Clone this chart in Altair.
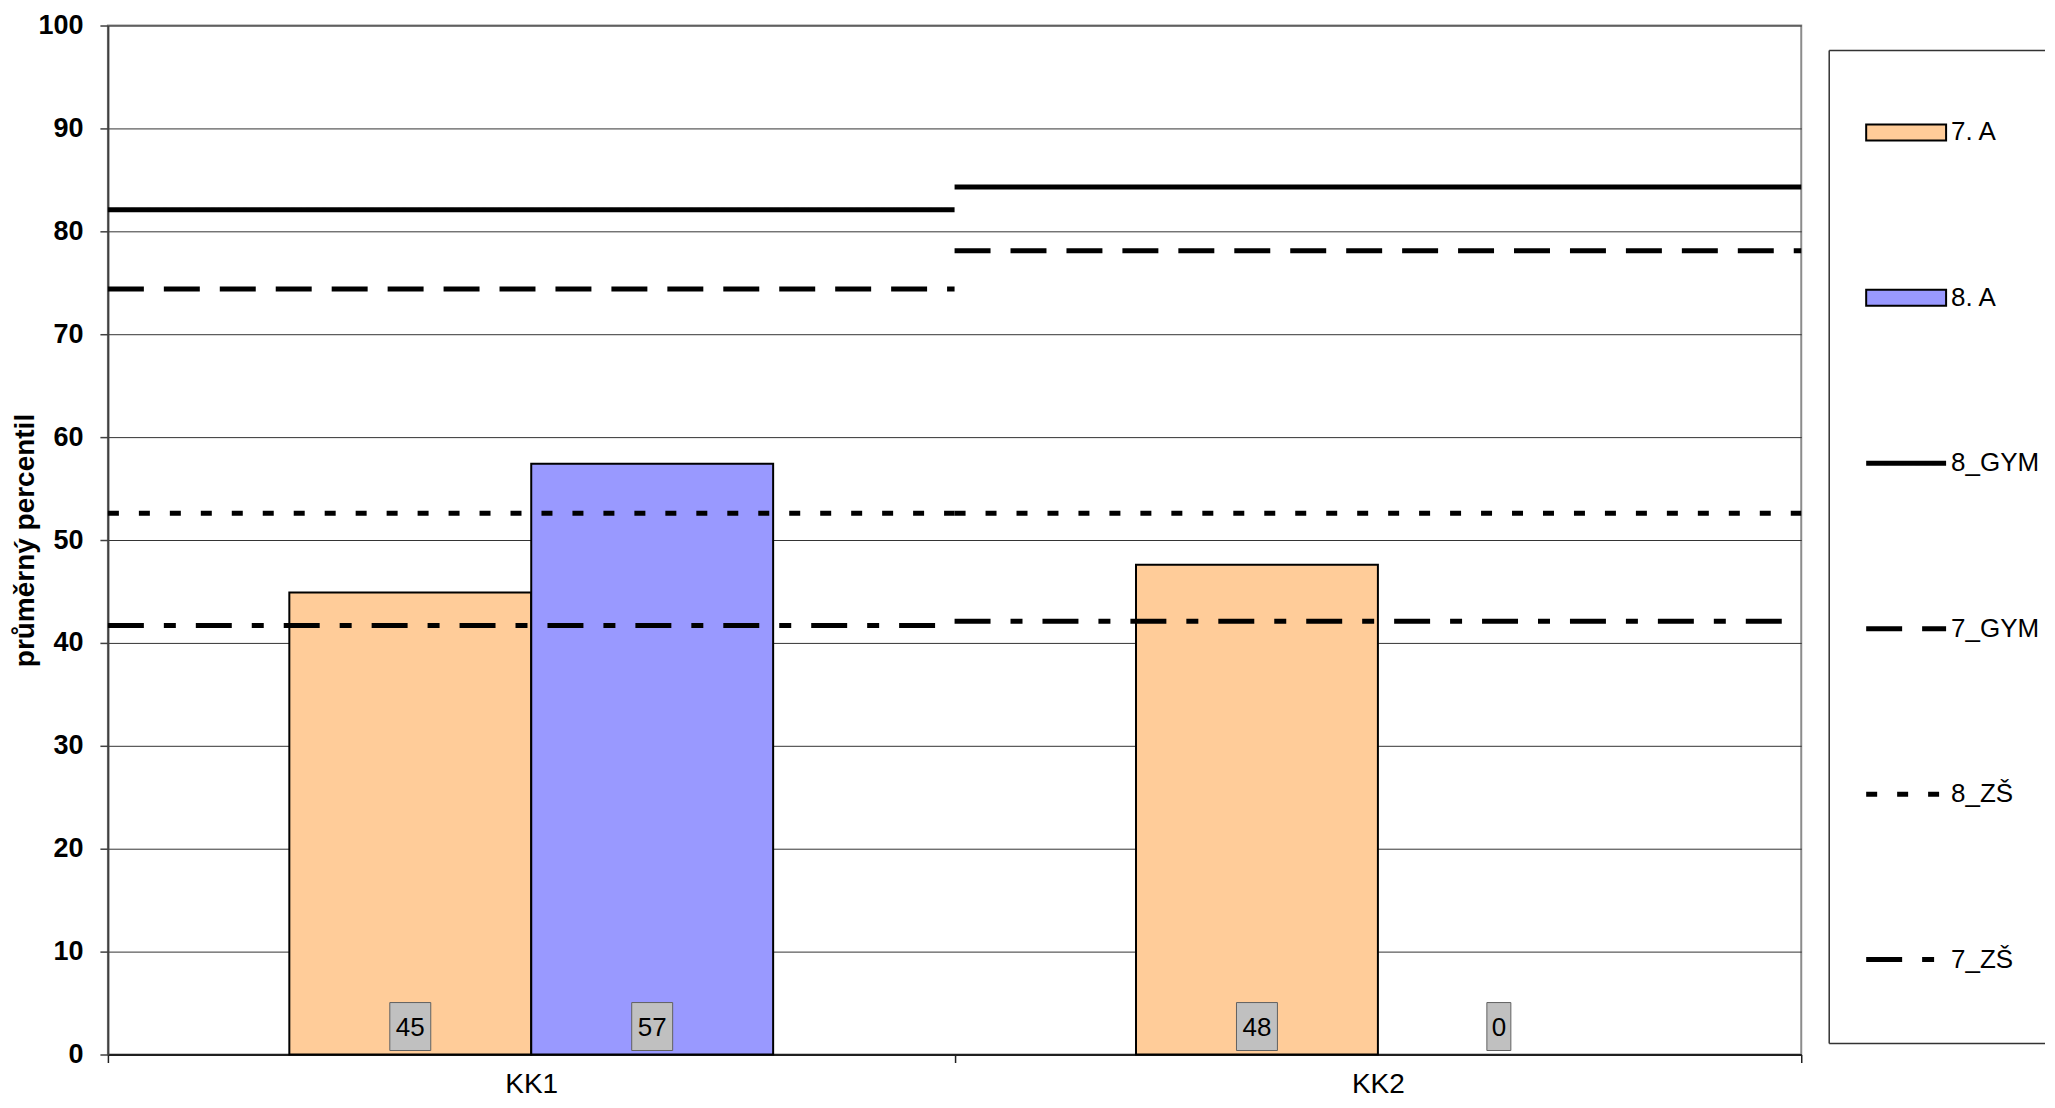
import altair as alt
import pandas as pd

# ---------------- data ----------------
categories = ["KK1", "KK2"]
bar_series = ["7. A", "8. A"]
bar_7A = [44.9, 47.6]
bar_8A = [57.4, 0.0]

line_series = ["8_GYM", "7_GYM", "8_ZŠ", "7_ZŠ"]
line_8GYM = [82.1, 84.3]
line_7GYM = [74.4, 78.1]
line_8ZS = [52.6, 52.6]
line_7ZS = [41.7, 42.1]

legend_order = bar_series + line_series
y_ticks = list(range(0, 101, 10))

# ---------------- styles ----------------
FONT = "Liberation Sans"
bar_colors = ["#FFCC99", "#9999FF"]
dash_styles = [[1, 0], [36, 20], [11, 20], [36, 20, 12, 20]]
W, H = 1695, 1030
LW = 216

bars_df = pd.DataFrame(
    [(c, s, v) for s, vals in zip(bar_series, [bar_7A, bar_8A]) for c, v in zip(categories, vals)],
    columns=["cat", "series", "value"],
)
lines_rows = []
for s, vals in zip(line_series, [line_8GYM, line_7GYM, line_8ZS, line_7ZS]):
    for i, v in enumerate(vals):
        lines_rows.append((categories[i], i, i + 1, s, v))
lines_df = pd.DataFrame(lines_rows, columns=["cat", "x0", "x1", "series", "value"])
legend_df = pd.DataFrame({"series": legend_order,
                          "kind": ["bar"] * len(bar_series) + ["line"] * len(line_series)})

y_scale = alt.Scale(domain=[0, 100], nice=False, zero=True)


def y_enc(field):
    return alt.Y(
        field,
        scale=y_scale,
        title="průměrný percentil",
        axis=alt.Axis(
            values=y_ticks, labelFont=FONT, labelFontSize=27, labelFontWeight="bold",
            labelColor="black", labelPadding=17, tickSize=8, tickColor="#404040", tickWidth=1.5,
            domainColor="#404040", domainWidth=2, gridColor="#333333", gridWidth=1,
            titleFont=FONT, titleFontSize=28, titleFontWeight="bold", titleColor="black",
            titlePadding=-2,
        ),
    )


x_scale = alt.Scale(domain=categories, paddingInner=0, paddingOuter=0)
x_axis = alt.X(
    "cat:N", sort=categories, title=None, scale=x_scale,
    axis=alt.Axis(labelFont=FONT, labelFontSize=28, labelColor="black", labelAngle=0,
                  labelPadding=8, tickBand="extent", tickSize=8, tickColor="#202020",
                  tickWidth=1.5, domainColor="#202020", domainWidth=2, grid=False),
)
x_noaxis = alt.X("cat:N", sort=categories, title=None, scale=x_scale, axis=None)
x_off = alt.XOffset("series:N", sort=bar_series,
                    scale=alt.Scale(domain=bar_series, paddingInner=0, paddingOuter=0.75))
fill_enc = alt.Fill("series:N", scale=alt.Scale(domain=bar_series, range=bar_colors), legend=None)
dash_enc = alt.StrokeDash("series:N", scale=alt.Scale(domain=line_series, range=dash_styles), legend=None)

bars = alt.Chart(bars_df).transform_filter("datum.value > 0").mark_bar(
    stroke="black", strokeWidth=2
).encode(x=x_axis, xOffset=x_off, y=y_enc("value:Q"), fill=fill_enc)

lines = alt.Chart(lines_df).mark_rule(color="black", strokeWidth=5, strokeCap="butt").encode(
    x=alt.X("x0:Q", scale=alt.Scale(domain=[0, 2], nice=False, zero=False), axis=None),
    x2="x1:Q",
    y=y_enc("value:Q"),
    strokeDash=dash_enc,
)

box_wide = "M-0.854,-1H0.854V1H-0.854Z"
box_narrow = "M-0.5,-1H0.5V1H-0.5Z"
label_base = alt.Chart(bars_df).transform_calculate(base="0")

boxes2 = label_base.transform_filter("round(datum.value) >= 10").mark_point(
    shape=box_wide, size=2304, filled=True, fill="#C0C0C0", stroke="#606060",
    strokeWidth=1, opacity=1, yOffset=-28,
).encode(x=x_noaxis, xOffset=x_off, y=y_enc("base:Q"))

boxes1 = label_base.transform_filter("round(datum.value) < 10").mark_point(
    shape=box_narrow, size=2304, filled=True, fill="#C0C0C0", stroke="#606060",
    strokeWidth=1, opacity=1, yOffset=-28,
).encode(x=x_noaxis, xOffset=x_off, y=y_enc("base:Q"))

texts = label_base.mark_text(
    font=FONT, fontSize=26, color="black", baseline="middle", align="center", yOffset=-27
).encode(x=x_noaxis, xOffset=x_off, y=y_enc("base:Q"), text=alt.Text("value:Q", format=".0f"))

main = alt.layer(bars, lines, boxes2, boxes1, texts).resolve_scale(x="independent").properties(
    width=W, height=H, view=alt.ViewBackground(stroke="#8c8c8c", strokeWidth=2)
)

# ---------------- legend panel ----------------
ly = alt.Y("series:N", sort=legend_order,
           scale=alt.Scale(type="point", domain=legend_order, range=[107, 935], padding=0),
           axis=None)

leg_bars = alt.Chart(legend_df).transform_filter("datum.kind == 'bar'").mark_point(
    shape="M-1,-0.2H1V0.2H-1Z", size=6400, filled=True, stroke="black", strokeWidth=2, opacity=1
).encode(x=alt.value(77), y=ly, fill=fill_enc)

leg_lines = alt.Chart(legend_df).transform_filter("datum.kind == 'line'").mark_rule(
    color="black", strokeWidth=5, strokeCap="butt"
).encode(x=alt.value(37), x2=alt.value(117), y=ly, strokeDash=dash_enc)

leg_text = alt.Chart(legend_df).mark_text(
    align="left", baseline="middle", font=FONT, fontSize=26, color="black"
).encode(x=alt.value(122), y=ly, text="series:N")

one = pd.DataFrame({"a": [0]})
frame_style = dict(color="#333333", strokeWidth=1.5)
frame_top = alt.Chart(one).mark_rule(**frame_style).encode(
    x=alt.value(0), x2=alt.value(LW), y=alt.value(25))
frame_bottom = alt.Chart(one).mark_rule(**frame_style).encode(
    x=alt.value(0), x2=alt.value(LW), y=alt.value(1019))
frame_left = alt.Chart(one).mark_rule(**frame_style).encode(
    x=alt.value(0), y=alt.value(25), y2=alt.value(1019))

legend_panel = alt.layer(frame_top, frame_bottom, frame_left, leg_bars, leg_lines, leg_text).properties(
    width=LW, height=H, view=alt.ViewBackground(stroke="transparent")
)

chart = alt.hconcat(main, legend_panel, spacing=28, bounds="flush").properties(
    padding={"left": 2, "top": 2, "right": 0, "bottom": 0},
    background="white",
)

chart.save("out.html", embed_options={"renderer": "svg", "actions": False})
